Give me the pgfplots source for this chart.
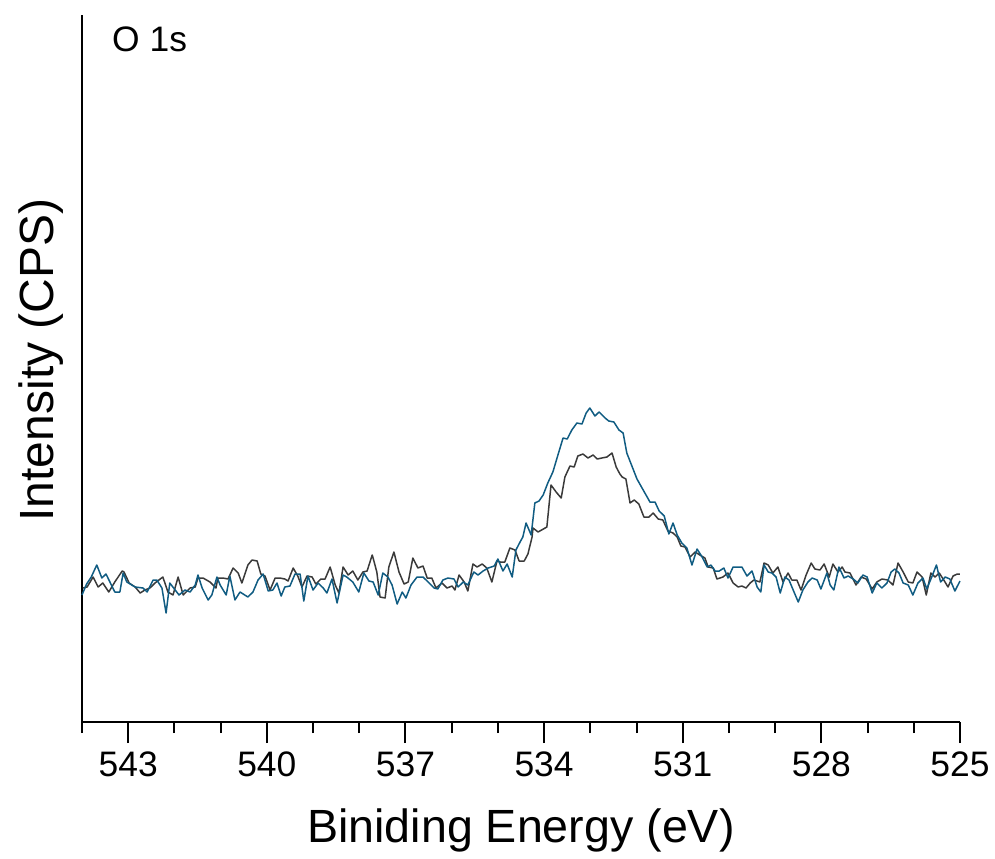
\documentclass[border=0pt]{standalone}
\usepackage{fontspec}
\setmainfont{Liberation Sans}
\usepackage{pgfplots}
\usepackage{pgfplotstable}
\pgfplotsset{compat=1.18}
\definecolor{cblack}{RGB}{58,58,58}
\definecolor{cblue}{RGB}{16,92,130}

\pgfplotstableread{
x y
543.98 134
543.89 135
543.76 145
543.65 135
543.55 139
543.42 130
543.29 140
543.13 151
543.09 150
542.98 139
542.85 135
542.74 129
542.64 132
542.53 134
542.42 139
542.25 145
542.14 130
542.03 127
541.92 145
541.81 127
541.66 134
541.55 135
541.49 144
541.38 144
541.23 140
541.10 134
541.06 144
540.95 144
540.84 143
540.73 154
540.62 149
540.54 139
540.41 157
540.32 162
540.21 161
540.13 148
540.04 146
539.93 132
539.82 144
539.72 144
539.61 143
539.54 141
539.43 154
539.33 146
539.24 135
539.13 146
539.02 145
538.94 138
538.83 143
538.74 143
538.63 155
538.52 137
538.44 129
538.35 155
538.24 147
538.14 151
538.03 142
537.92 150
537.83 151
537.72 167
537.70 164
537.62 150
537.55 125
537.44 124
537.36 155
537.25 170
537.14 150
537.03 138
536.94 140
536.84 164
536.73 154
536.62 156
536.53 144
536.43 144
536.34 134
536.21 139
536.10 134
535.99 136
535.93 132
535.84 147
535.73 140
535.65 131
535.54 158
535.45 155
535.34 158
535.24 154
535.13 140
535.02 161
534.95 160
534.85 160
534.74 174
534.63 172
534.54 161
534.43 161
534.35 168
534.26 185
534.24 194
534.13 190
533.94 195
533.85 237
533.74 230
533.63 224
533.55 245
533.44 256
533.35 255
533.27 266
533.16 268
533.05 264
532.94 267
532.85 263
532.75 264
532.64 265
532.53 269
532.44 255
532.36 248
532.31 245
532.23 243
532.14 219
532.05 222
531.95 218
531.84 205
531.73 205
531.64 209
531.53 203
531.43 202
531.32 191
531.21 189
531.12 185
531.04 176
530.95 175
530.84 165
530.73 170
530.63 167
530.52 164
530.45 155
530.34 154
530.26 143
530.13 145
530.02 149
529.91 139
529.80 135
529.72 136
529.63 134
529.54 139
529.46 142
529.33 140
529.24 159
529.15 157
529.05 149
528.94 155
528.83 140
528.72 149
528.64 142
528.53 142
528.44 132
528.33 147
528.22 159
528.14 153
528.03 152
527.94 158
527.83 145
527.75 158
527.64 150
527.55 155
527.49 150
527.38 149
527.25 137
527.14 145
527.03 143
526.90 133
526.80 140
526.69 143
526.56 142
526.45 137
526.34 159
526.23 150
526.12 140
526.02 139
525.93 150
525.82 145
525.73 127
525.63 149
525.54 145
525.45 149
525.35 142
525.26 135
525.15 146
525.06 148
525.00 148
}\blackdata

\pgfplotstableread{
x y
544.00 127
543.90 138
543.80 145
543.68 157
543.57 144
543.48 148
543.29 130
543.18 130
543.11 149
543.03 140
542.85 135
542.68 134
542.59 130
542.46 142
542.38 142
542.27 134
542.18 109
542.10 139
541.90 127
541.77 132
541.66 130
541.55 137
541.49 147
541.40 134
541.27 122
541.19 127
541.08 145
541.01 137
540.88 127
540.80 146
540.69 122
540.58 130
540.41 125
540.30 130
540.19 142
540.08 148
539.97 131
539.87 132
539.78 139
539.69 126
539.61 135
539.50 136
539.39 148
539.28 148
539.20 121
539.11 146
539.00 132
538.89 139
538.78 134
538.70 129
538.59 143
538.48 119
538.35 147
538.27 145
538.14 140
538.01 130
537.90 149
537.79 141
537.70 140
537.59 127
537.49 149
537.38 145
537.29 137
537.18 118
537.07 130
536.99 124
536.88 137
536.75 145
536.62 145
536.51 140
536.38 134
536.30 133
536.19 142
536.08 144
535.95 143
535.86 135
535.75 140
535.65 137
535.52 150
535.43 147
535.32 151
535.21 154
535.08 156
535.00 163
534.89 151
534.80 158
534.69 145
534.61 172
534.52 180
534.46 185
534.39 199
534.28 187
534.20 219
534.11 221
534.02 227
533.92 239
533.81 250
533.72 264
533.59 284
533.50 283
533.40 292
533.29 299
533.18 298
533.09 309
533.01 314
532.90 306
532.81 310
532.68 304
532.60 301
532.49 300
532.38 292
532.29 289
532.21 269
532.10 256
531.99 243
531.88 234
531.77 225
531.71 220
531.60 220
531.51 211
531.40 206
531.30 188
531.21 199
531.12 187
531.02 179
530.91 174
530.80 157
530.69 173
530.58 165
530.47 155
530.39 157
530.30 151
530.21 151
530.11 154
530.02 144
529.91 155
529.80 155
529.72 155
529.61 146
529.50 151
529.39 135
529.31 130
529.24 157
529.15 150
529.07 149
528.98 145
528.89 129
528.79 145
528.70 142
528.61 132
528.50 120
528.40 132
528.29 140
528.20 144
528.09 142
528.01 133
527.88 149
527.81 137
527.73 132
527.62 155
527.51 144
527.42 146
527.31 143
527.21 139
527.10 147
527.01 145
526.90 129
526.80 139
526.69 134
526.58 139
526.49 150
526.41 153
526.32 149
526.23 139
526.12 137
526.02 127
525.91 139
525.80 144
525.72 133
525.62 144
525.51 157
525.42 140
525.32 145
525.22 143
525.11 131
525.00 141
}\bluedata

\begin{document}
\begin{tikzpicture}
\begin{axis}[
  name=ax,
  scale only axis,
  width=439pt, height=353.5pt,
  x dir=reverse,
  xmin=525, xmax=544,
  ymin=0, ymax=707,
  axis x line*=bottom,
  axis y line*=left,
  axis line style={line width=1pt, -},
  xtick={525,528,531,534,537,540,543},
  minor xtick={525,526,...,544},
  ytick=\empty,
  tick align=outside,
  major tick length=10.5pt,
  minor tick length=5.5pt,
  every tick/.style={black, line width=1pt},
  x tick label style={font=\fontsize{17.7}{20}\selectfont, yshift=-1pt},
  /pgf/number format/assume math mode=true,
  xticklabel={\pgfmathprintnumber[fixed,precision=0]{\tick}},
  xlabel={Biniding Energy (eV)},
  ylabel={Intensity (CPS)},
  every axis x label/.style={at={(axis description cs:0.5,-0.1711)}, anchor=base, font=\fontsize{23.3}{26}\selectfont},
  every axis y label/.style={at={(axis description cs:-0.032,0.512)}, rotate=90, anchor=base, font=\fontsize{24}{27}\selectfont},
  clip=false,
]
\addplot[cblack, line width=0.75pt, line join=round] table[x=x,y=y] {\blackdata};
\addplot[cblue, line width=0.75pt, line join=round] table[x=x,y=y] {\bluedata};
\node[anchor=base west, font=\fontsize{17.7}{20}\selectfont, inner sep=0pt] at (rel axis cs:0.034,0.948) {O 1s};
\end{axis}
\pgfresetboundingbox
\path[use as bounding box] ([shift={(-41pt,-68pt)}]ax.south west) rectangle ([shift={(17.5pt,7.5pt)}]ax.north east);
\end{tikzpicture}
\end{document}
